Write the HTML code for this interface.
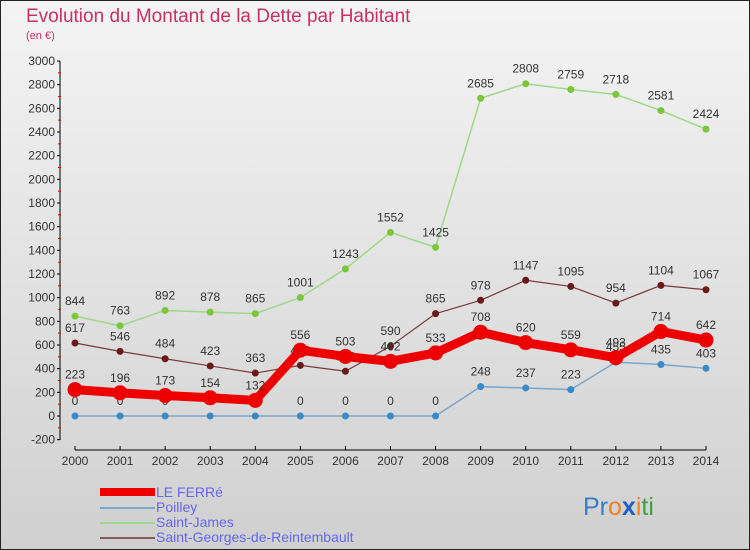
<!DOCTYPE html>
<html><head><meta charset="utf-8"><style>
body{margin:0;width:750px;height:550px;overflow:hidden}
svg{display:block}
text{font-family:"Liberation Sans",sans-serif}
</style></head><body>
<svg id="c" width="750" height="550">
<defs><linearGradient id="bg" x1="0" y1="0" x2="0" y2="1"><stop offset="0" stop-color="#f4f4f4"/><stop offset="1" stop-color="#d0d0d0"/></linearGradient></defs>
<rect x="0.5" y="0.5" width="749" height="549" fill="url(#bg)" stroke="#222"/>
<text x="26" y="22" font-size="19" fill="#c8325f">Evolution du Montant de la Dette par Habitant</text>
<text x="26" y="39" font-size="11" fill="#c8325f">(en €)</text>
<g id="axes"></g><g id="series"></g>
<g>
<rect x="100" y="488" width="55" height="8" fill="#e00"/>
<text x="156" y="497" font-size="14" fill="#6666ee">LE FERRé</text>
<rect x="100" y="507" width="55" height="2" fill="#7aa6cc"/>
<text x="156" y="512" font-size="14" fill="#6666ee">Poilley</text>
<rect x="100" y="522" width="55" height="2" fill="#9ed88a"/>
<text x="156" y="527" font-size="14" fill="#6666ee">Saint-James</text>
<rect x="100" y="537" width="55" height="2" fill="#8a5a5a"/>
<text x="156" y="542" font-size="14" fill="#6666ee">Saint-Georges-de-Reintembault</text>
</g>
<text x="583" y="515" font-size="25"><tspan fill="#3a7cc8">Pr</tspan><tspan fill="#f08020">o</tspan><tspan fill="#2060c0" font-weight="bold">x</tspan><tspan fill="#f08020">i</tspan><tspan fill="#40a040">ti</tspan></text>
</svg>
<script>
const years=[2000,2001,2002,2003,2004,2005,2006,2007,2008,2009,2010,2011,2012,2013,2014];
const yTicks=[-200,0,200,400,600,800,1000,1200,1400,1600,1800,2000,2200,2400,2600,2800,3000];
const leFerre=[223,196,173,154,132,556,503,462,533,708,620,559,493,714,642];
const poilley=[0,0,0,0,0,0,0,0,0,248,237,223,455,435,403];
const saintJames=[844,763,892,878,865,1001,1243,1552,1425,2685,2808,2759,2718,2581,2424];
const saintGeorges=[617,546,484,423,363,428,378,590,865,978,1147,1095,954,1104,1067];
const NS="http://www.w3.org/2000/svg";
const X=i=>75+i*(706-75)/(years.length-1);
const Y=v=>416-v*(416-61)/3000;
function mk(t,a,p){const e=document.createElementNS(NS,t);for(const k in a)e.setAttribute(k,a[k]);p.appendChild(e);return e;}
const ax=document.getElementById('axes');
let l=mk('line',{x1:60,y1:61,x2:60,y2:440,stroke:'#000'},ax);


l=mk('line',{x1:75,y1:450,x2:706,y2:450,stroke:'#000'},ax);


yTicks.forEach((v,k)=>{const y=Y(v);
 mk('line',{x1:57,y1:y,x2:60,y2:y,stroke:'#000'},ax);
 if(k<yTicks.length-1){const ym=Y(v+100);mk('line',{x1:58,y1:ym,x2:61,y2:ym,stroke:'#e00'},ax);}
 const t=mk('text',{x:55,y:y+4,'font-size':12,fill:'#333','text-anchor':'end'},ax);t.textContent=v;
 
 });
years.forEach((yr,i)=>{mk('line',{x1:X(i),y1:446,x2:X(i),y2:450,stroke:'#000'},ax);
 const t=mk('text',{x:X(i),y:465,'font-size':12,fill:'#333','text-anchor':'middle'},ax);t.textContent=yr;
 
 });
const sg=document.getElementById('series');
function draw(vals,name,col,w,r,dot){
 const g=mk('g',{},sg);
 
 
 mk('polyline',{points:vals.map((v,i)=>X(i)+','+Y(v)).join(' '),fill:'none',stroke:col,'stroke-width':w,'stroke-linejoin':'round'},g);
 vals.forEach((v,i)=>{const c=mk('circle',{cx:X(i),cy:Y(v),r:r,fill:dot},g);
  
  
  const t=mk('text',{x:X(i),y:Y(v)-11,'font-size':12,fill:'#333','text-anchor':'middle'},g);t.textContent=v;
  
  });
}
draw(saintJames,'saint-james-series','#9ed88a',1.5,3.5,'#7ac83a');
draw(saintGeorges,'saint-georges-series','#7a3a3a',1.2,3.5,'#6a1a1a');
draw(poilley,'poilley-series','#7aa6cc',1.5,3.5,'#3a8ac8');
draw(leFerre,'le-ferre-series','#ee0000',9,7.5,'#ee0000');
</script>
</body></html>
